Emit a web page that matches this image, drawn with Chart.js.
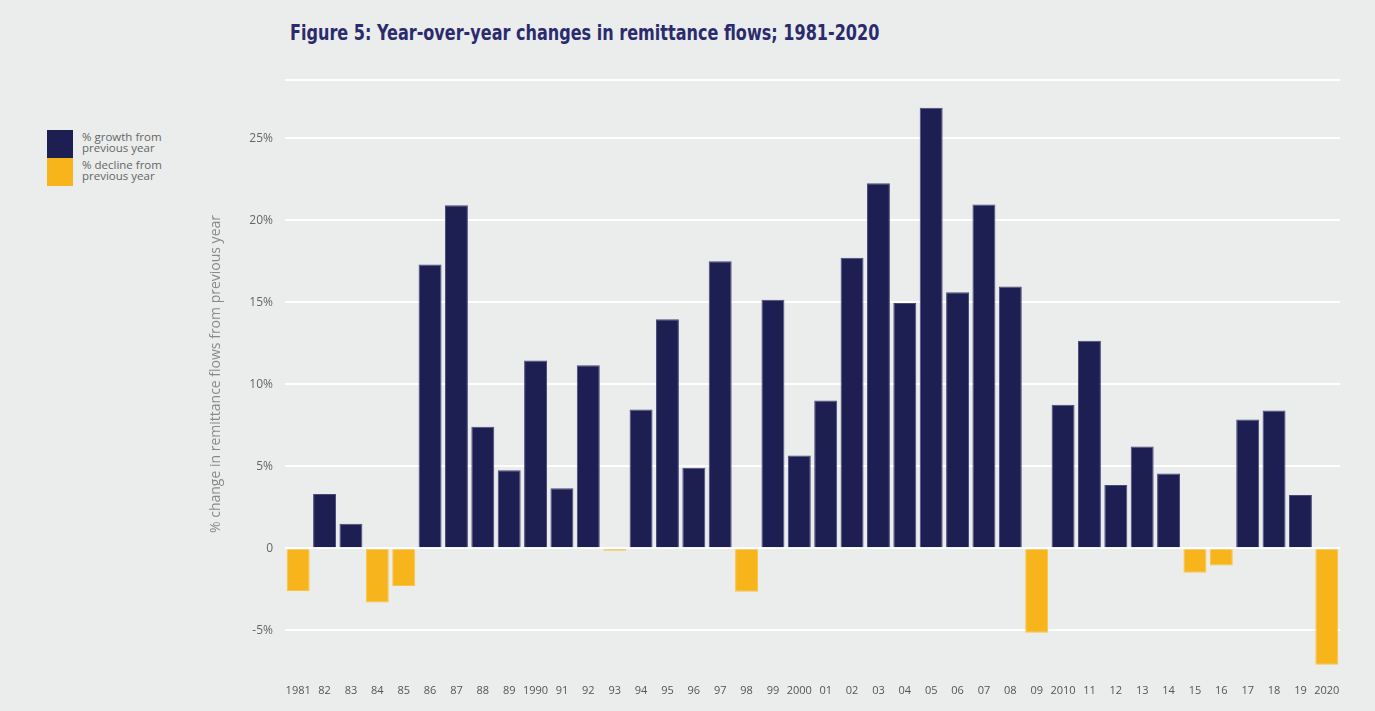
<!DOCTYPE html>
<html>
<head>
<meta charset="utf-8">
<script src="https://cdn.jsdelivr.net/npm/chart.js@4/dist/chart.umd.min.js"></script>
<style>
  html, body { margin: 0; padding: 0; background: #ebecec; }
  body { width: 1375px; height: 711px; position: relative; overflow: hidden; }
  #title {
    position: absolute; left: 290px; top: 21px;
    font-family: "Liberation Sans Narrow", "DejaVu Sans Condensed", sans-serif;
    font-weight: bold; font-size: 21px; color: #2a2b6e; white-space: nowrap;
    transform: scaleX(0.85); transform-origin: left center;
  }
  #legend { position: absolute; left: 47px; top: 130px; }
  .item { position: relative; height: 28px; }
  .swatch { position: absolute; left: 0; top: 0; width: 26px; height: 28px; }
  .label {
    position: absolute; left: 35px; top: 1px;
    font-family: "Open Sans", sans-serif; font-size: 11.5px; line-height: 11px; color: #666;
    white-space: nowrap;
  }
  #wrap { position: absolute; left: 0; top: 0; width: 1375px; height: 711px; }
</style>
</head>
<body>
<div id="title">Figure 5: Year-over-year changes in remittance flows; 1981-2020</div>
<div id="legend">
  <div class="item"><div class="swatch" style="background:#1d1e52"></div><div class="label">% growth from<br>previous year</div></div>
  <div class="item"><div class="swatch" style="background:#f7b51b"></div><div class="label">% decline from<br>previous year</div></div>
</div>
<div id="wrap"><canvas id="chart"></canvas></div>
<script>
const years = ['1981','82','83','84','85','86','87','88','89','1990',
               '91','92','93','94','95','96','97','98','99','2000',
               '01','02','03','04','05','06','07','08','09','2010',
               '11','12','13','14','15','16','17','18','19','2020'];

// % change in remittance flows from previous year
const change = [-2.6, 3.3, 1.5, -3.3, -2.3, 17.3, 20.9, 7.4, 4.75, 11.45,
                3.65, 11.15, -0.15, 8.45, 13.95, 4.9, 17.5, -2.65, 15.15, 5.65,
                9.0, 17.7, 22.25, 14.95, 26.85, 15.6, 20.95, 15.95, -5.15, 8.75,
                12.65, 3.85, 6.2, 4.55, -1.5, -1.05, 7.85, 8.4, 3.25, -7.1];

const yTicks = [-5, 0, 5, 10, 15, 20, 25];
const yTop = 28.54;

const growth = change.map(v => v >= 0 ? v : null);
const decline = change.map(v => v < 0 ? v : null);

const font = "'Open Sans', sans-serif";

new Chart(document.getElementById('chart'), {
  type: 'bar',
  data: {
    labels: years,
    datasets: [
      { label: '% growth from previous year', data: growth,
        backgroundColor: '#1d1e52', borderColor: '#48497a', borderWidth: 1,
        barPercentage: 0.87, categoryPercentage: 1 },
      { label: '% decline from previous year', data: decline,
        backgroundColor: '#f7b51b', borderColor: '#f9c444', borderWidth: 1,
        barPercentage: 0.87, categoryPercentage: 1 }
    ]
  },
  options: {
    responsive: true,
    maintainAspectRatio: false,
    animation: false,
    layout: { padding: { left: 205, right: 35, top: 80, bottom: 0 } },
    plugins: { legend: { display: false }, tooltip: { enabled: false } },
    scales: {
      x: {
        stacked: true,
        grid: { display: false, drawTicks: false },
        border: { display: false },
        ticks: { color: '#555', font: { family: font, size: 11 }, padding: 16, maxRotation: 0, autoSkip: false },
        afterFit: s => { s.height = 43; }
      },
      y: {
        stacked: true,
        min: -7.3,
        max: yTop,
        afterBuildTicks: s => { s.ticks = yTicks.concat([yTop]).map(v => ({ value: v })); },
        grid: { color: '#ffffff', lineWidth: 2, drawTicks: false },
        border: { display: false },
        ticks: {
          color: '#666', font: { family: font, size: 12 }, padding: 12,
          callback: v => v === yTop ? '' : (v === 0 ? '0' : v + '%')
        },
        title: { display: true, text: '% change in remittance flows from previous year',
                 color: '#8a8a8a', font: { family: font, size: 14 }, padding: 3 },
        afterFit: s => { s.width = 80; }
      }
    }
  }
});
</script>
</body>
</html>
